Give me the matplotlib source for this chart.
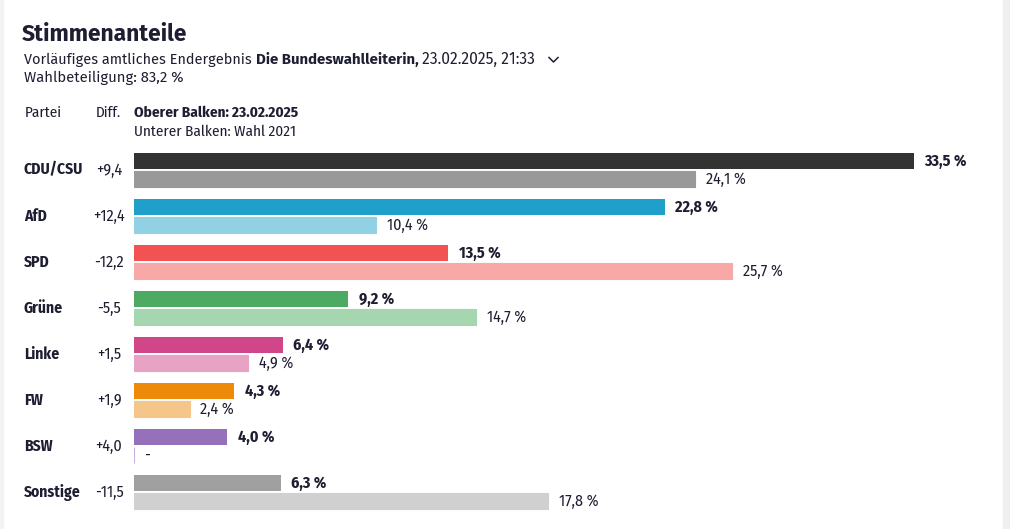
import matplotlib
matplotlib.use("Agg")
import matplotlib.pyplot as plt
from matplotlib import transforms
from matplotlib.patches import Rectangle
import numpy as np

# Daten: Stimmenanteile in %
parteien = ["CDU/CSU", "AfD", "SPD", "Grüne", "Linke", "FW", "BSW", "Sonstige"]
wahl_2025 = [33.5, 22.8, 13.5, 9.2, 6.4, 4.3, 4.0, 6.3]
wahl_2021 = [24.1, 10.4, 25.7, 14.7, 4.9, 2.4, None, 17.8]  # BSW 2021 nicht angetreten

farben_oben = ["#333333", "#1fa0ca", "#f25252", "#4caa62", "#d14689", "#ee8a0a", "#9670bb", "#a0a0a0"]
farben_unten = ["#999999", "#92d0e3", "#f9a8a8", "#a5d6b0", "#e8a3c4", "#f5c689", "#c6b0de", "#d0d0d0"]

TXT = "#1e1e32"
HEAD_FONT = ["Fira Sans", "Open Sans", "DejaVu Sans"]
BAR_FONT = ["Fira Sans Condensed", "Liberation Sans Narrow", "Roboto", "DejaVu Sans"]


def fmt(v):
    return f"{v:.1f}".replace(".", ",")


W, H = 1010, 529
fig = plt.figure(figsize=(W / 100, H / 100), dpi=100)
fig.patch.set_facecolor("white")

# Rand links/rechts
fig.patches.append(Rectangle((0, 0), 3 / W, 1, transform=fig.transFigure, color="#f3f3f3", zorder=0))
fig.patches.append(Rectangle((1003 / W, 0), 7 / W, 1, transform=fig.transFigure, color="#efefef", zorder=0))

# Kopfzeile in Pixelkoordinaten
bg = fig.add_axes([0, 0, 1, 1])
bg.set_xlim(0, W)
bg.set_ylim(H, 0)
bg.axis("off")

bg.text(22, 34, "Stimmenanteile", fontsize=16.4, fontweight="bold", color=TXT, family=HEAD_FONT, va="center")
t1 = bg.text(24, 60, "Vorläufiges amtliches Endergebnis ", fontsize=10.4, color=TXT, family=HEAD_FONT, va="center")
t2 = bg.annotate("Die Bundeswahlleiterin,", xy=(1, 0), xycoords=t1, va="bottom", ha="left",
                 fontsize=10.8, fontweight="bold", color=TXT, family=HEAD_FONT, annotation_clip=False)
t3 = bg.annotate(" 23.02.2025, 21:33", xy=(1, 0), xycoords=t2, va="bottom", ha="left",
                 fontsize=11.2, color=TXT, family=HEAD_FONT, annotation_clip=False)
bg.plot([549, 553.5, 558], [57.5, 62, 57.5], color=TXT, lw=1.1)
bg.text(24, 78, "Wahlbeteiligung: 83,2 %", fontsize=10.7, color=TXT, family=HEAD_FONT, va="center")

bg.text(25, 113, "Partei", fontsize=10.9, color=TXT, family=BAR_FONT, va="center")
bg.text(96, 113, "Diff.", fontsize=10.9, color=TXT, family=BAR_FONT, va="center")
bg.text(134, 113, "Oberer Balken: 23.02.2025", fontsize=10.9, fontweight="bold", color=TXT, family=BAR_FONT, va="center")
bg.text(134, 132, "Unterer Balken: Wahl 2021", fontsize=10.9, color=TXT, family=BAR_FONT, va="center")

# Balkenbereich: 1 Gruppe = 46 px, Gruppe 0 mittig bei y=170 px
x0, x1 = 134, 1003
px_per_pct = 780 / 33.5
ax = fig.add_axes([x0 / W, 0, (x1 - x0) / W, 1])
ax.set_xlim(0, (x1 - x0) / px_per_pct)
ax.set_ylim((H - 170) / 46, -170 / 46)
ax.axis("off")

n = len(parteien)
y = np.arange(n)
off = 9 / 46
h = 16 / 46

ax.barh(y - off, wahl_2025, height=h, color=farben_oben)
w21 = [v if v is not None else 0 for v in wahl_2021]
ax.barh(y + off, w21, height=h, color=farben_unten, edgecolor=farben_unten, linewidth=0.8)

lbl = transforms.blended_transform_factory(bg.transData, ax.transData)
for i, p in enumerate(parteien):
    ax.text(24, i, p, transform=lbl, fontsize=11.2, fontweight="bold", color=TXT,
            family=BAR_FONT, va="center", ha="left")
    alt = wahl_2021[i] if wahl_2021[i] is not None else 0
    d = round(wahl_2025[i] - alt, 1)
    ax.text(109, i, ("+" if d > 0 else "") + fmt(d), transform=lbl, fontsize=11.5, color=TXT,
            family=BAR_FONT, va="center", ha="center")
    ax.annotate(fmt(wahl_2025[i]) + " %", xy=(wahl_2025[i], i - off), xytext=(7.5, 0),
                textcoords="offset points", va="center", ha="left", fontsize=11.5,
                fontweight="bold", color=TXT, family=BAR_FONT)
    txt = fmt(wahl_2021[i]) + " %" if wahl_2021[i] is not None else "-"
    ax.annotate(txt, xy=(alt, i + off), xytext=(7.5, 0),
                textcoords="offset points", va="center", ha="left", fontsize=11.5,
                color=TXT, family=BAR_FONT)

fig.savefig("out.png", dpi=100, facecolor="white")
